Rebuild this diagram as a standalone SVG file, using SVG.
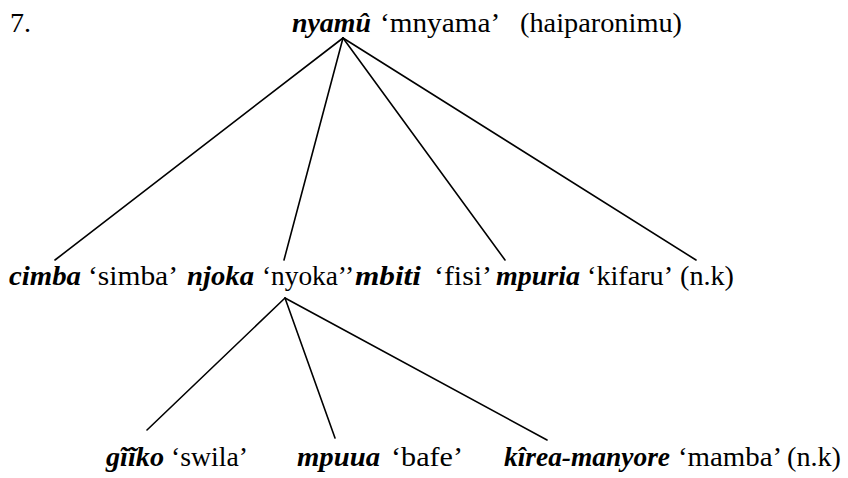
<svg xmlns="http://www.w3.org/2000/svg" width="848" height="478" viewBox="0 0 848 478">
<style>
.w{font-weight:bold;font-style:italic}
.e line{stroke:#000;stroke-width:1.6;stroke-linecap:round}
</style>
<rect width="848" height="478" fill="#fff"/>
<g id="edges" class="e">
<line x1="343" y1="38" x2="55" y2="260"/>
<line x1="343" y1="38" x2="284" y2="260"/>
<line x1="343" y1="38" x2="505" y2="260"/>
<line x1="343" y1="38" x2="696" y2="260"/>
<line x1="285" y1="298" x2="147" y2="430"/>
<line x1="285" y1="298" x2="335" y2="438"/>
<line x1="285" y1="298" x2="547" y2="440"/>
</g>
<g font-family="Liberation Serif, Times New Roman, serif" font-size="28" fill="#000">
<g id="label7"><text x="10" y="32">7.</text></g>
<g id="root"><text y="32"><tspan class="w" x="292" textLength="79" lengthAdjust="spacingAndGlyphs">nyamû</tspan> <tspan x="380" textLength="118" lengthAdjust="spacingAndGlyphs">‘mnyama’</tspan> <tspan x="520" textLength="162" lengthAdjust="spacingAndGlyphs">(haiparonimu)</tspan></text></g>
<g id="cimba"><text y="285"><tspan class="w" x="9" textLength="72" lengthAdjust="spacingAndGlyphs">cimba</tspan> <tspan x="88" textLength="90" lengthAdjust="spacingAndGlyphs">‘simba’</tspan></text></g>
<g id="njoka"><text y="285"><tspan class="w" x="187" textLength="67" lengthAdjust="spacingAndGlyphs">njoka</tspan> <tspan x="262" textLength="92" lengthAdjust="spacingAndGlyphs">‘nyoka’’</tspan></text></g>
<g id="mbiti"><text y="285"><tspan class="w" x="355" textLength="66" lengthAdjust="spacingAndGlyphs">mbiti</tspan> <tspan x="434" textLength="58" lengthAdjust="spacingAndGlyphs">‘fisi’</tspan></text></g>
<g id="mpuria"><text y="285"><tspan class="w" x="496" textLength="84" lengthAdjust="spacingAndGlyphs">mpuria</tspan> <tspan x="587" textLength="84" lengthAdjust="spacingAndGlyphs">‘kifaru’</tspan> <tspan x="680" textLength="54" lengthAdjust="spacingAndGlyphs">(n.k)</tspan></text></g>
<g id="giiko"><text y="466"><tspan class="w" x="106" textLength="58" lengthAdjust="spacingAndGlyphs">gĩĩko</tspan> <tspan x="171" textLength="77" lengthAdjust="spacingAndGlyphs">‘swila’</tspan></text></g>
<g id="mpuua"><text y="466"><tspan class="w" x="297" textLength="83" lengthAdjust="spacingAndGlyphs">mpuua</tspan> <tspan x="391" textLength="72" lengthAdjust="spacingAndGlyphs">‘bafe’</tspan></text></g>
<g id="kirea"><text y="466"><tspan class="w" x="504" textLength="166" lengthAdjust="spacingAndGlyphs">kîrea-manyore</tspan> <tspan x="678" textLength="102" lengthAdjust="spacingAndGlyphs">‘mamba’</tspan> <tspan x="787" textLength="54" lengthAdjust="spacingAndGlyphs">(n.k)</tspan></text></g>
</g>
</svg>
